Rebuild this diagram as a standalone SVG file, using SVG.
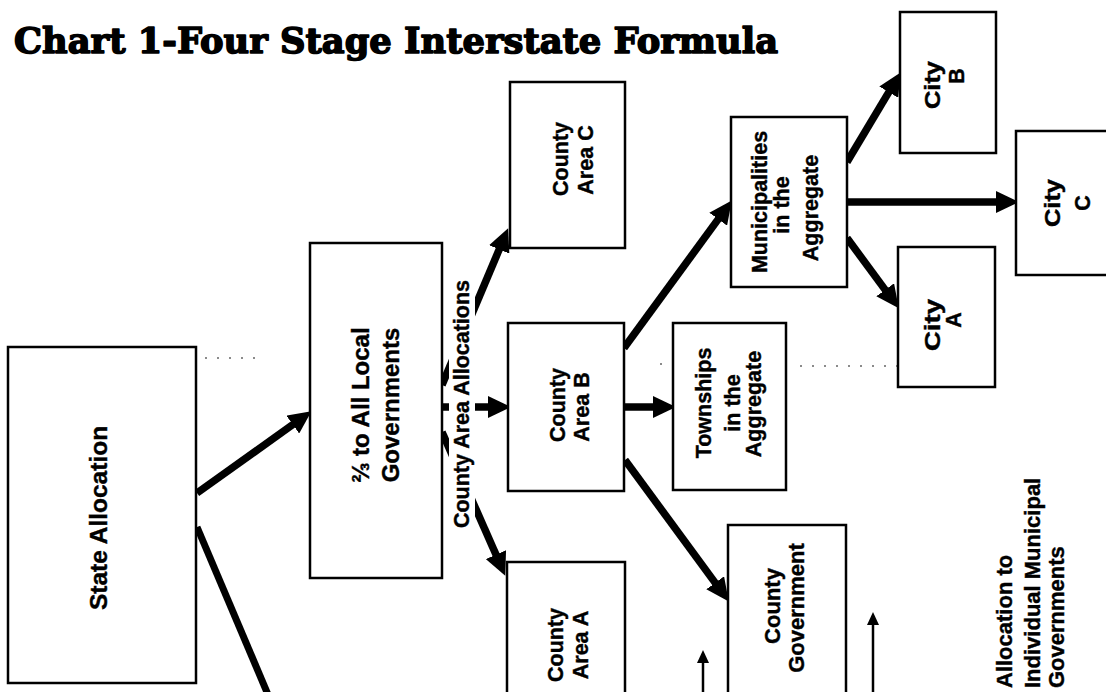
<svg xmlns="http://www.w3.org/2000/svg" width="1106" height="692" viewBox="0 0 1106 692">
<defs>
<marker id="ah" markerUnits="userSpaceOnUse" markerWidth="24" markerHeight="22" refX="10" refY="11" orient="auto">
<path d="M0,0 L23,11 L0,22 Z" fill="#000"/>
</marker>
<marker id="ahs" markerUnits="userSpaceOnUse" markerWidth="14" markerHeight="14" refX="5" refY="6" orient="auto">
<path d="M0,0 L13,6 L0,12 Z" fill="#000"/>
</marker>
<style>
.box{fill:#fff;stroke:#000;stroke-width:2.5}
.t{font-family:"Liberation Sans",Arial,Helvetica,sans-serif;font-weight:bold;font-size:21.5px;fill:#000;stroke:#000;stroke-width:0.4;text-anchor:middle}
.arr{stroke:#000;stroke-width:7.5;fill:none;marker-end:url(#ah)}
.thin{stroke:#000;stroke-width:2.5;fill:none;marker-end:url(#ahs)}
.dot{stroke:#666;stroke-width:1.5;stroke-dasharray:2 10;fill:none}
.title{font-family:"DejaVu Serif","Liberation Serif",serif;font-weight:bold;font-size:36px;fill:#000;stroke:#000;stroke-width:1.6;stroke-linejoin:round}
</style>
</defs>
<rect width="1106" height="692" fill="#fff"/>
<text class="title" x="14" y="53" textLength="764" lengthAdjust="spacingAndGlyphs">Chart 1-Four Stage Interstate Formula</text>

<g id="connectors">
<line class="arr" x1="197" y1="493" x2="300.9" y2="418.8"/>
<line x1="197" y1="527" x2="269" y2="697" stroke="#000" stroke-width="7"/>
<line class="arr" x1="442" y1="385" x2="503.1" y2="240.2"/>
<line class="arr" x1="442" y1="407" x2="498" y2="407"/>
<line class="arr" x1="442" y1="432" x2="500" y2="563.8"/>
<line class="arr" x1="624" y1="407" x2="663" y2="407"/>
<line class="arr" x1="624" y1="348" x2="724.1" y2="211.1"/>
<line class="arr" x1="625" y1="460" x2="721.1" y2="590.9"/>
<line class="arr" x1="847" y1="162" x2="893.9" y2="83.6"/>
<line class="arr" x1="847" y1="202" x2="1006" y2="202"/>
<line class="arr" x1="847" y1="238" x2="891.1" y2="297.9"/>
<line class="thin" x1="703" y1="700" x2="703" y2="658"/>
<line class="thin" x1="873" y1="700" x2="873" y2="620"/>
<path class="dot" d="M205,358 H262 M376,361 H420 M660,364 H735 M800,366 H930"/>
</g>

<g id="label-county-area-allocations">
<rect x="449" y="276" width="26" height="258" fill="#fff"/>
<text class="t" transform="translate(469,404) rotate(-90)">County Area Allocations</text>
</g>

<g id="state-allocation">
<rect class="box" x="8" y="347" width="188" height="336"/>
<text class="t" style="font-size:24.5px" transform="translate(107,518) rotate(-90)">State Allocation</text>
</g>

<g id="all-local">
<rect class="box" x="310" y="243" width="132" height="335"/>
<text class="t" style="font-size:24px" transform="translate(369,405) rotate(-90)">⅔ to All Local</text>
<text class="t" style="font-size:24px" transform="translate(399,405) rotate(-90)">Governments</text>
</g>

<g id="county-area-c">
<rect class="box" x="510" y="82" width="115" height="166"/>
<text class="t" transform="translate(568,159) rotate(-90)">County</text>
<text class="t" transform="translate(593,160) rotate(-90)">Area C</text>
</g>

<g id="county-area-b">
<rect class="box" x="508" y="323" width="116" height="168"/>
<text class="t" transform="translate(565,405) rotate(-90)">County</text>
<text class="t" transform="translate(589,407) rotate(-90)">Area B</text>
</g>

<g id="county-area-a">
<rect class="box" x="507" y="562" width="118" height="140"/>
<text class="t" transform="translate(563,645) rotate(-90)">County</text>
<text class="t" transform="translate(588,645) rotate(-90)">Area A</text>
</g>

<g id="townships">
<rect class="box" x="673" y="323" width="113" height="167"/>
<text class="t" transform="translate(711,403) rotate(-90)">Townships</text>
<text class="t" transform="translate(740,403) rotate(-90)">in the</text>
<text class="t" transform="translate(761,404) rotate(-90)">Aggregate</text>
</g>

<g id="county-government">
<rect class="box" x="728" y="525" width="118" height="175"/>
<text class="t" style="font-size:22px" transform="translate(780,606) rotate(-90)">County</text>
<text class="t" style="font-size:22px" transform="translate(804,608) rotate(-90)">Government</text>
</g>

<g id="municipalities">
<rect class="box" x="731" y="117" width="116" height="170"/>
<text class="t" transform="translate(767,202) rotate(-90)">Municipalities</text>
<text class="t" transform="translate(789,205) rotate(-90)">in the</text>
<text class="t" transform="translate(818,208) rotate(-90)">Aggregate</text>
</g>

<g id="city-b">
<rect class="box" x="900" y="12" width="96" height="141"/>
<text class="t" transform="translate(940,85) rotate(-90)" textLength="48" lengthAdjust="spacingAndGlyphs">City</text>
<text class="t" transform="translate(964,76) rotate(-90)">B</text>
</g>

<g id="city-c">
<rect class="box" x="1016" y="131" width="100" height="144"/>
<text class="t" transform="translate(1060,203) rotate(-90)" textLength="48" lengthAdjust="spacingAndGlyphs">City</text>
<text class="t" transform="translate(1090,203) rotate(-90)">C</text>
</g>

<g id="city-a">
<rect class="box" x="898" y="247" width="97" height="140"/>
<text class="t" transform="translate(940,325) rotate(-90)" textLength="52" lengthAdjust="spacingAndGlyphs">City</text>
<text class="t" transform="translate(961,320) rotate(-90)">A</text>
</g>

<g id="label-individual">
<text class="t" style="font-size:22px;text-anchor:start" transform="translate(1012,688) rotate(-90)">Allocation to</text>
<text class="t" style="font-size:22px;text-anchor:start" transform="translate(1040,688) rotate(-90)">Individual Municipal</text>
<text class="t" style="font-size:22px;text-anchor:start" transform="translate(1064,688) rotate(-90)">Governments</text>
</g>
</svg>
